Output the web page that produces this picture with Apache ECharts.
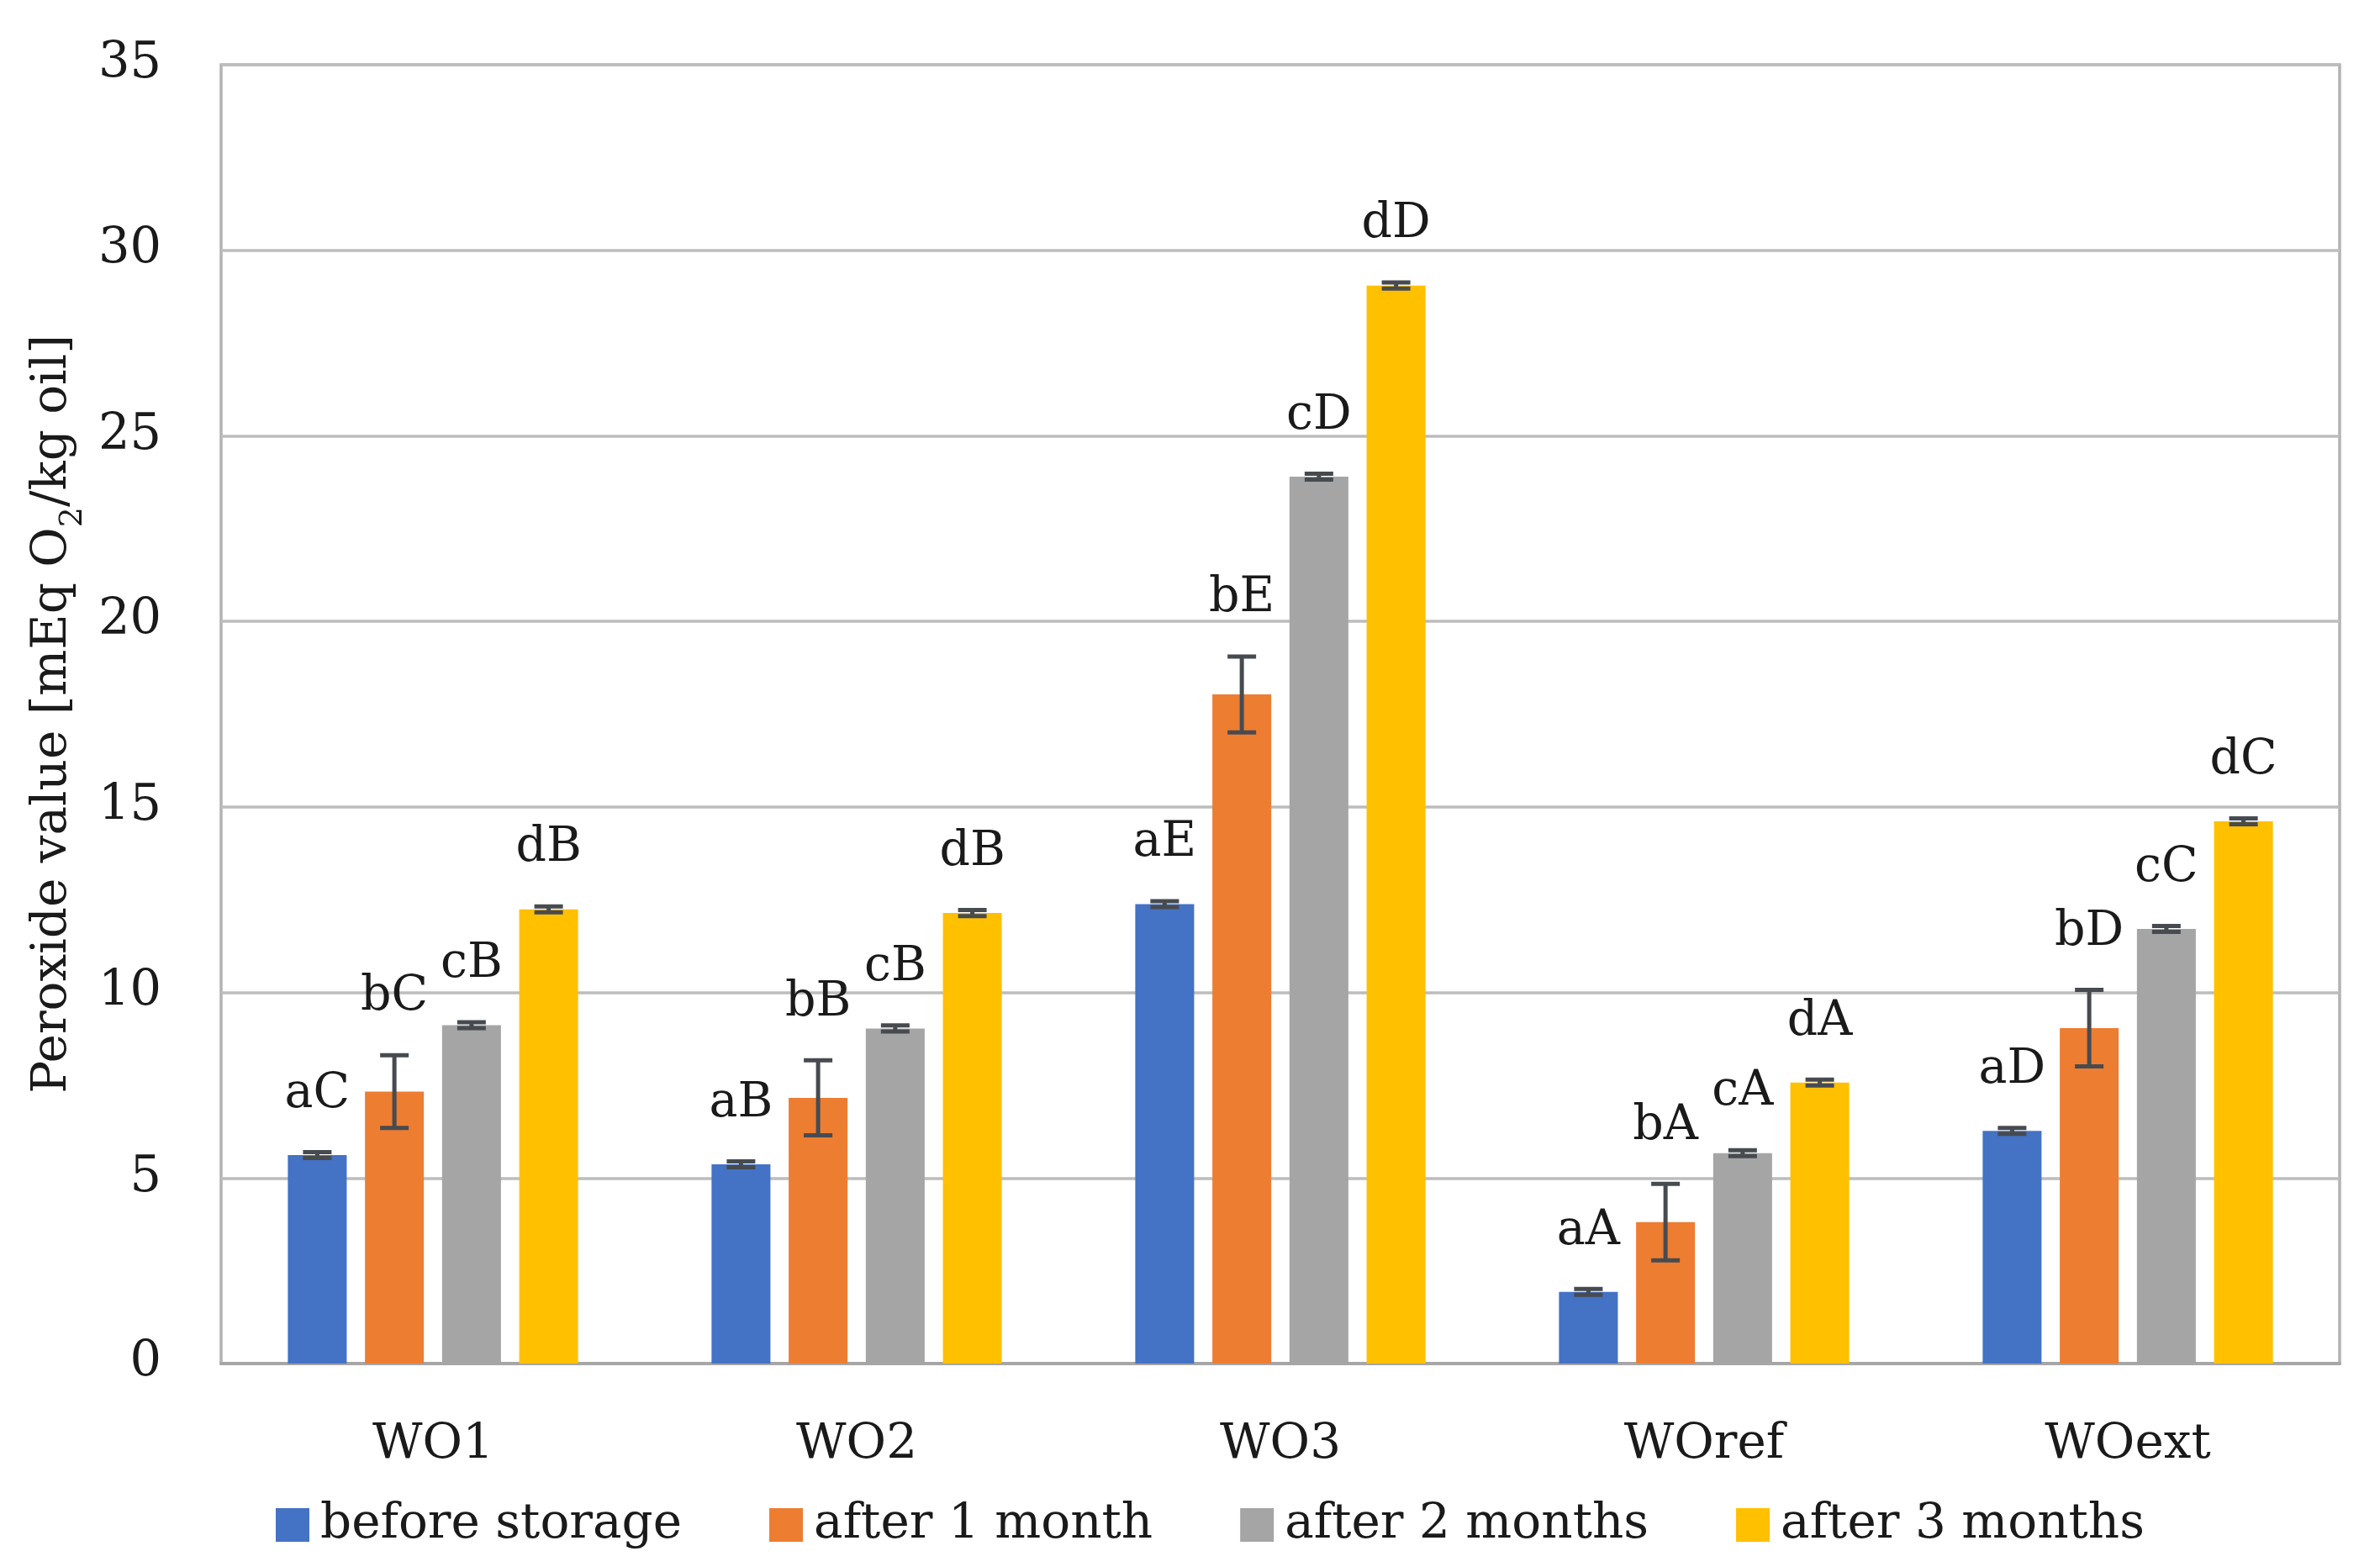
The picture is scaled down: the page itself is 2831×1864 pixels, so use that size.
<!DOCTYPE html>
<html>
<head>
<meta charset="utf-8">
<script src="https://cdn.jsdelivr.net/npm/echarts@6/dist/echarts.min.js"></script>
<style>
html,body{margin:0;padding:0;background:#fff;}
#chart{width:2831px;height:1864px;}
</style>
</head>
<body>
<div id="chart"></div>
<script>
const categories = ['WO1', 'WO2', 'WO3', 'WOref', 'WOext'];
const seriesNames = ['before storage', 'after 1 month', 'after 2 months', 'after 3 months'];
const beforeStorage = [5.62, 5.37, 12.38, 1.93, 6.27];
const after1Month   = [7.33, 7.16, 18.03, 3.81, 9.04];
const after2Months  = [9.12, 9.03, 23.90, 5.67, 11.71];
const after3Months  = [12.24, 12.14, 29.05, 7.57, 14.61];
const errBefore  = [0.08, 0.08, 0.08, 0.08, 0.08];
const err1Month  = [0.98, 1.01, 1.02, 1.03, 1.03];
const err2Months = [0.08, 0.08, 0.08, 0.08, 0.08];
const err3Months = [0.08, 0.08, 0.08, 0.08, 0.08];
const lettersBefore  = ['aC', 'aB', 'aE', 'aA', 'aD'];
const letters1Month  = ['bC', 'bB', 'bE', 'bA', 'bD'];
const letters2Months = ['cB', 'cB', 'cD', 'cA', 'cC'];
const letters3Months = ['dB', 'dB', 'dD', 'dA', 'dC'];
const yTicks = {min: 0, max: 35, interval: 5};

const colors = ['#4472C4', '#ED7D31', '#A5A5A5', '#FFC000'];
const values = [beforeStorage, after1Month, after2Months, after3Months];
const errors = [errBefore, err1Month, err2Months, err3Months];
const letters = [lettersBefore, letters1Month, letters2Months, letters3Months];

const FONT = 'DejaVu Serif';
const TXT = '#1a1a1a';
const CAT_GAP = 0.315, BAR_GAP = 0.31, N = 4;

const chart = echarts.init(document.getElementById('chart'), null, {renderer: 'canvas'});

const series = [];
values.forEach((vals, s) => {
  series.push({
    name: seriesNames[s],
    type: 'bar',
    data: vals,
    barGap: (BAR_GAP * 100) + '%',
    barCategoryGap: (CAT_GAP * 100) + '%',
    itemStyle: {color: colors[s]},
    z: 2
  });
});
values.forEach((vals, s) => {
  series.push({
    name: 'err' + s,
    type: 'custom',
    z: 5,
    data: vals.map((v, i) => [i, v, errors[s][i]]),
    encode: {x: 0, y: 1},
    renderItem: function (params, api) {
      const ci = api.value(0), v = api.value(1), e = api.value(2);
      const label = letters[s][ci];
      const band = api.size([1, 0])[0];
      const w = band * (1 - CAT_GAP) / (N + (N - 1) * BAR_GAP);
      const off = (s - (N - 1) / 2) * w * (1 + BAR_GAP);
      const c = api.coord([ci, v]);
      const top = api.coord([ci, v + e]);
      const bot = api.coord([ci, v - e]);
      const x = c[0] + off;
      const half = 17;
      const st = {stroke: '#474b50', lineWidth: 5};
      return {
        type: 'group',
        children: [
          {type: 'line', shape: {x1: x, y1: top[1], x2: x, y2: bot[1]}, style: st},
          {type: 'line', shape: {x1: x - half, y1: top[1], x2: x + half, y2: top[1]}, style: st},
          {type: 'line', shape: {x1: x - half, y1: bot[1], x2: x + half, y2: bot[1]}, style: st},
          {type: 'text', x: x, y: top[1] - 40,
           style: {text: label, fill: TXT, font: '57px "' + FONT + '"', textAlign: 'center', textVerticalAlign: 'bottom'}}
        ]
      };
    }
  });
});

chart.setOption({
  backgroundColor: '#ffffff',
  animation: false,
  textStyle: {fontFamily: FONT, color: TXT},
  grid: {left: 263, right: 48, top: 77, bottom: 242, show: true, borderColor: '#b3b3b3', borderWidth: 3.5, containLabel: false},
  legend: {
    data: seriesNames,
    left: 323,
    top: 1780,
    icon: 'rect',
    itemWidth: 40,
    itemHeight: 40,
    itemGap: 104,
    textStyle: {fontFamily: FONT, fontSize: 58, color: TXT, padding: [0, 0, 0, 8]}
  },
  xAxis: {
    type: 'category',
    data: categories,
    axisLine: {show: true, lineStyle: {color: '#a6a6a6', width: 4}},
    axisTick: {show: false},
    axisLabel: {fontFamily: FONT, fontSize: 58, color: TXT, margin: 68}
  },
  yAxis: {
    type: 'value',
    min: yTicks.min,
    max: yTicks.max,
    interval: yTicks.interval,
    axisLine: {show: false},
    axisTick: {show: false},
    axisLabel: {fontFamily: FONT, fontSize: 59, color: TXT, margin: 71},
    splitLine: {show: true, lineStyle: {color: '#bdbdbd', width: 3.5}},
    name: '{a|Peroxide value [mEq O}{s|2}{a|/kg oil]}',
    nameLocation: 'middle',
    nameGap: 153,
    nameTextStyle: {
      rich: {
        a: {fontFamily: FONT, fontSize: 58, color: TXT},
        s: {fontFamily: FONT, fontSize: 38, color: TXT, verticalAlign: 'bottom', padding: [0, 0, -14, 0]}
      }
    }
  },
  series: series
});
</script>
</body>
</html>
